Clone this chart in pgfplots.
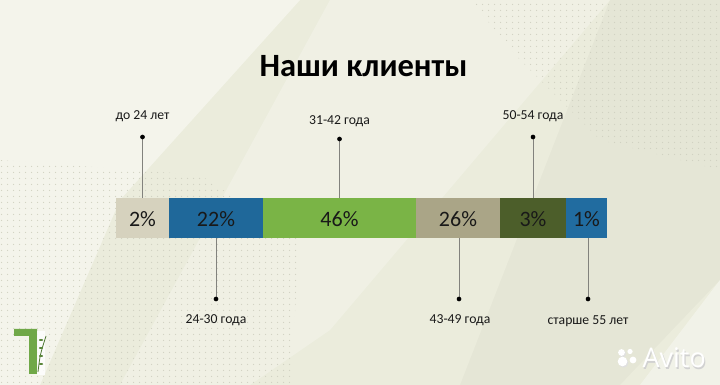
\documentclass[border=0pt]{standalone}
\usepackage{pgfplots}
\pgfplotsset{compat=1.18}
\usepackage{pgfplotstable}
\usepackage{fontspec}
\setmainfont{Carlito}
\newfontfamily\avitofont{Open Sans}
\usetikzlibrary{patterns}
\definecolor{bgc}{RGB}{235,236,220}
\definecolor{dotc}{RGB}{208,209,193}
\definecolor{cbeige}{RGB}{214,210,190}
\definecolor{cblue}{RGB}{31,104,154}
\definecolor{cgreen}{RGB}{122,180,70}
\definecolor{ctaupe}{RGB}{170,165,135}
\definecolor{colive}{RGB}{76,94,42}
\definecolor{cblue2}{RGB}{33,108,160}
\definecolor{txt}{RGB}{25,25,25}
\definecolor{linec}{RGB}{130,130,125}
\definecolor{logog}{RGB}{112,168,72}
\pgfdeclarepatternformonly{mydots}{\pgfpointorigin}{\pgfpoint{6pt}{6pt}}{\pgfpoint{6pt}{6pt}}{%
  \pgfpathcircle{\pgfpoint{3pt}{3pt}}{0.7pt}\pgfusepath{fill}}

\pgfplotsset{
  base/.style={
    scale only axis, width=720pt, height=385pt,
    xmin=-116, xmax=604, ymin=0, ymax=385, y dir=reverse,
    hide axis, clip=false, at={(0,0)}, anchor=south west
  }
}

\begin{document}
\begin{tikzpicture}
% ---------- background ----------
\fill[bgc] (0,0) rectangle (720pt,385pt);
\begin{scope}[x=1pt, y=-1pt, yshift=385pt]
  \fill[white, opacity=0.45] (0,0) -- (300,0) -- (120,200) -- (40,385) -- (0,385) -- cycle;
  \fill[white, opacity=0.25] (330,0) -- (610,0) -- (330,330) -- (250,385) -- (120,385) -- cycle;
  \fill[white, opacity=0.35] (720,280) -- (720,385) -- (640,385) -- cycle;
  \fill[black, opacity=0.025] (610,0) -- (720,0) -- (720,280) -- (620,385) -- (460,385) -- cycle;
  \fill[pattern=mydots, pattern color=dotc] (470,0) -- (720,0) -- (720,170) -- (600,140) -- (520,60) -- cycle;
  \fill[pattern=mydots, pattern color=dotc] (0,160) -- (200,175) -- (300,240) -- (290,385) -- (0,385) -- cycle;
  % logo
  \fill[logog] (14,329) -- (37,329) -- (37,374) -- (29,374) -- (29,336) -- (14,336) -- cycle;
  \fill[white, opacity=0.8] (37,331) rectangle (45,375);
  \draw[logog!70!black, line width=0.8pt] (38,372) .. controls (40,355) .. (46,336);
  \foreach \yy in {340,348,356,364}{
    \fill[logog!80!black] (41,\yy) ellipse (2.2 and 1);
  }
  % avito watermark
  \fill[black!12] (622.5,353.8) circle (3.4);
  \fill[white] (621.5,352.5) circle (3.4);
  \fill[white] (630,351.5) circle (2.6);
  \fill[black!12] (623.5,362.8) circle (4.8);
  \fill[white] (622.5,361.5) circle (4.8);
  \fill[white] (633,360) circle (3.4);
  \node[anchor=west, text=black!18, font=\avitofont\fontsize{27}{27}\selectfont] at (640.2,359.3) {Avito};
  \node[anchor=west, text=white, font=\avitofont\fontsize{27}{27}\selectfont] at (639,358) {Avito};
\end{scope}

% ---------- stacked bar ----------
\begin{axis}[base, xbar stacked, bar width=40pt]
  \addplot[fill=cbeige, draw=none] coordinates {(53,218)};
  \addplot[fill=cblue,  draw=none] coordinates {(94,218)};
  \addplot[fill=cgreen, draw=none] coordinates {(153,218)};
  \addplot[fill=ctaupe, draw=none] coordinates {(84,218)};
  \addplot[fill=colive, draw=none] coordinates {(66,218)};
  \addplot[fill=cblue2, draw=none] coordinates {(41,218)};
\end{axis}

% ---------- labels, callouts ----------
\begin{axis}[base]
  % callout lines
  \addplot[linec, line width=0.9pt] coordinates {(26.5,137) (26.5,198)};
  \addplot[linec, line width=0.9pt] coordinates {(100,238) (100,299)};
  \addplot[linec, line width=0.9pt] coordinates {(223.5,139) (223.5,198)};
  \addplot[linec, line width=0.9pt] coordinates {(343,238) (343,299)};
  \addplot[linec, line width=0.9pt] coordinates {(417,137) (417,198)};
  \addplot[linec, line width=0.9pt] coordinates {(472,238) (472,299)};
  % dots
  \addplot[only marks, mark=*, mark size=2.1pt, black] coordinates {
    (26.5,137) (100,299) (223.5,139) (343,299) (417,137) (472,299)};
  % percentages
  \addplot[only marks, mark=none, point meta=explicit symbolic,
    nodes near coords, nodes near coords align=center,
    every node near coord/.append style={anchor=center, text=txt,
      font=\fontsize{22}{26}\selectfont}]
    table[meta=label, col sep=comma, row sep=\\] {
      x,y,label\\
      26.5,219,2\%\\
      100,219,22\%\\
      223.5,219,46\%\\
      342,219,26\%\\
      417,219,3\%\\
      470.5,219,1\%\\
    };
  % age groups
  \addplot[only marks, mark=none, point meta=explicit symbolic,
    nodes near coords, nodes near coords align=center,
    every node near coord/.append style={anchor=center, text=txt,
      font=\fontsize{13.7}{16}\selectfont}]
    table[meta=label, col sep=comma, row sep=\\] {
      x,y,label\\
      26.5,116,до 24 лет\\
      100,320,24-30 года\\
      223.5,121,31-42 года\\
      344,320,43-49 года\\
      417,116,50-54 года\\
      472,321,старше 55 лет\\
    };
  \node[anchor=center, text=black, font=\bfseries\fontsize{32.5}{36}\selectfont] at (axis cs:247.5,66) {Наши клиенты};
\end{axis}
\pgfresetboundingbox
\path[use as bounding box] (0,0) rectangle (720pt,385pt);
\end{tikzpicture}
\end{document}
